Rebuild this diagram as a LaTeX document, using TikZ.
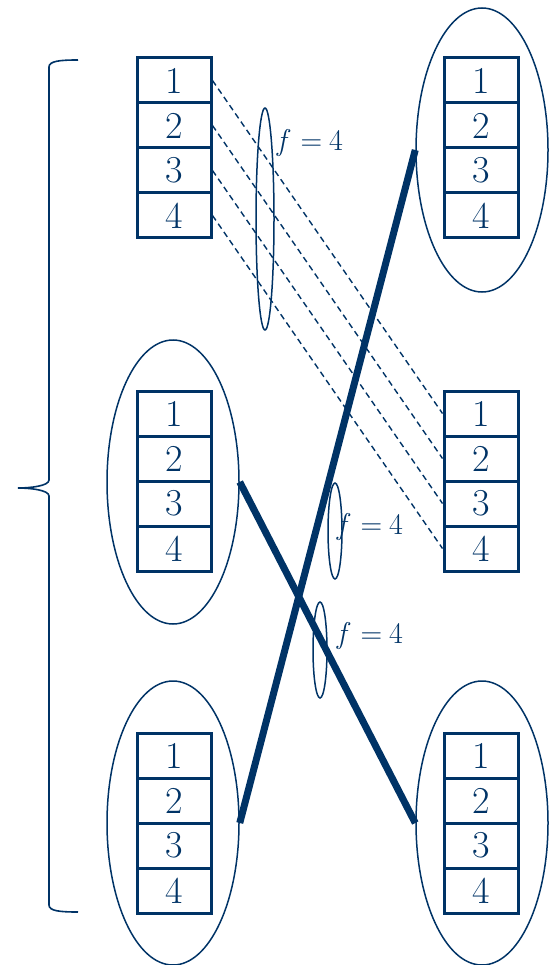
\documentclass[tikz,border=0pt]{standalone}
\usetikzlibrary{shapes.geometric}
\definecolor{navy}{RGB}{0,51,102}
\begin{document}
\begin{tikzpicture}[x=1pt,y=-1pt,
  cell/.style={draw=navy,line width=3pt,minimum width=74pt,minimum height=45pt,inner sep=0pt,text=navy,font=\fontsize{38}{38}\selectfont},
  bigell/.style={draw=navy,line width=1.5pt,ellipse,minimum width=132pt,minimum height=284pt,inner sep=0pt},
  smallell/.style={draw=navy,line width=1.5pt,ellipse,inner sep=0pt},
  thickline/.style={draw=navy,line width=7pt},
  dashline/.style={draw=navy,line width=1.4pt,dash pattern=on 6pt off 4pt},
  flabel/.style={text=navy,anchor=west,inner sep=0pt,font=\fontsize{30}{30}\selectfont},
  bracepath/.style={draw=navy,line width=1.6pt}]
\useasboundingbox (0,0) rectangle (551,965);
% boxes
\foreach \nm/\x/\t in {TL/174/58,TR/481/58,ML/174/391,MR/481/391,BL/174/733,BR/481/733}{
  \foreach \i in {1,2,3,4}{
    \node[cell] (\nm-\i) at (\x,{\t+22.5+45*(\i-1)}) {\i};
  }
}
% big ellipses
\node[bigell] (TRe) at (482,150) {};
\node[bigell] (MLe) at (173,482) {};
\node[bigell] (BLe) at (173,823) {};
\node[bigell] (BRe) at (482,823) {};
% dashed lines
\foreach \i in {1,2,3,4}{
  \draw[dashline] (TL-\i.east) -- (MR-\i.west);
}
% thick lines
\draw[thickline] (MLe.east) -- (BRe.west);
\draw[thickline] (BLe.east) -- (TRe.west);
% small ellipses
\node[smallell,minimum width=18pt,minimum height=222pt] (s1) at (265,219) {};
\node[smallell,minimum width=14pt,minimum height=96pt] (s2) at (335,531) {};
\node[smallell,minimum width=14pt,minimum height=96pt] (s3) at (320,650) {};
% labels
\node[flabel] (l1) at (277,143) {\textit{f}\hspace{10pt}=\hspace{7pt}4};
\node[flabel] (l2) at (337,527) {\textit{f}\hspace{10pt}=\hspace{7pt}4};
\node[flabel] (l3) at (337,636) {\textit{f}\hspace{10pt}=\hspace{7pt}4};
% brace
\coordinate (bt) at (78,60);
\coordinate (bm) at (18,488);
\coordinate (bb) at (78,912);
\draw[bracepath] (bt) .. controls (60,60) and (49,61) .. (49,67)
  -- (49,480) .. controls (49,486) and (30,488) .. (bm)
  .. controls (30,488) and (49,490) .. (49,496)
  -- (49,905) .. controls (49,911) and (60,912) .. (bb);
\end{tikzpicture}
\end{document}
